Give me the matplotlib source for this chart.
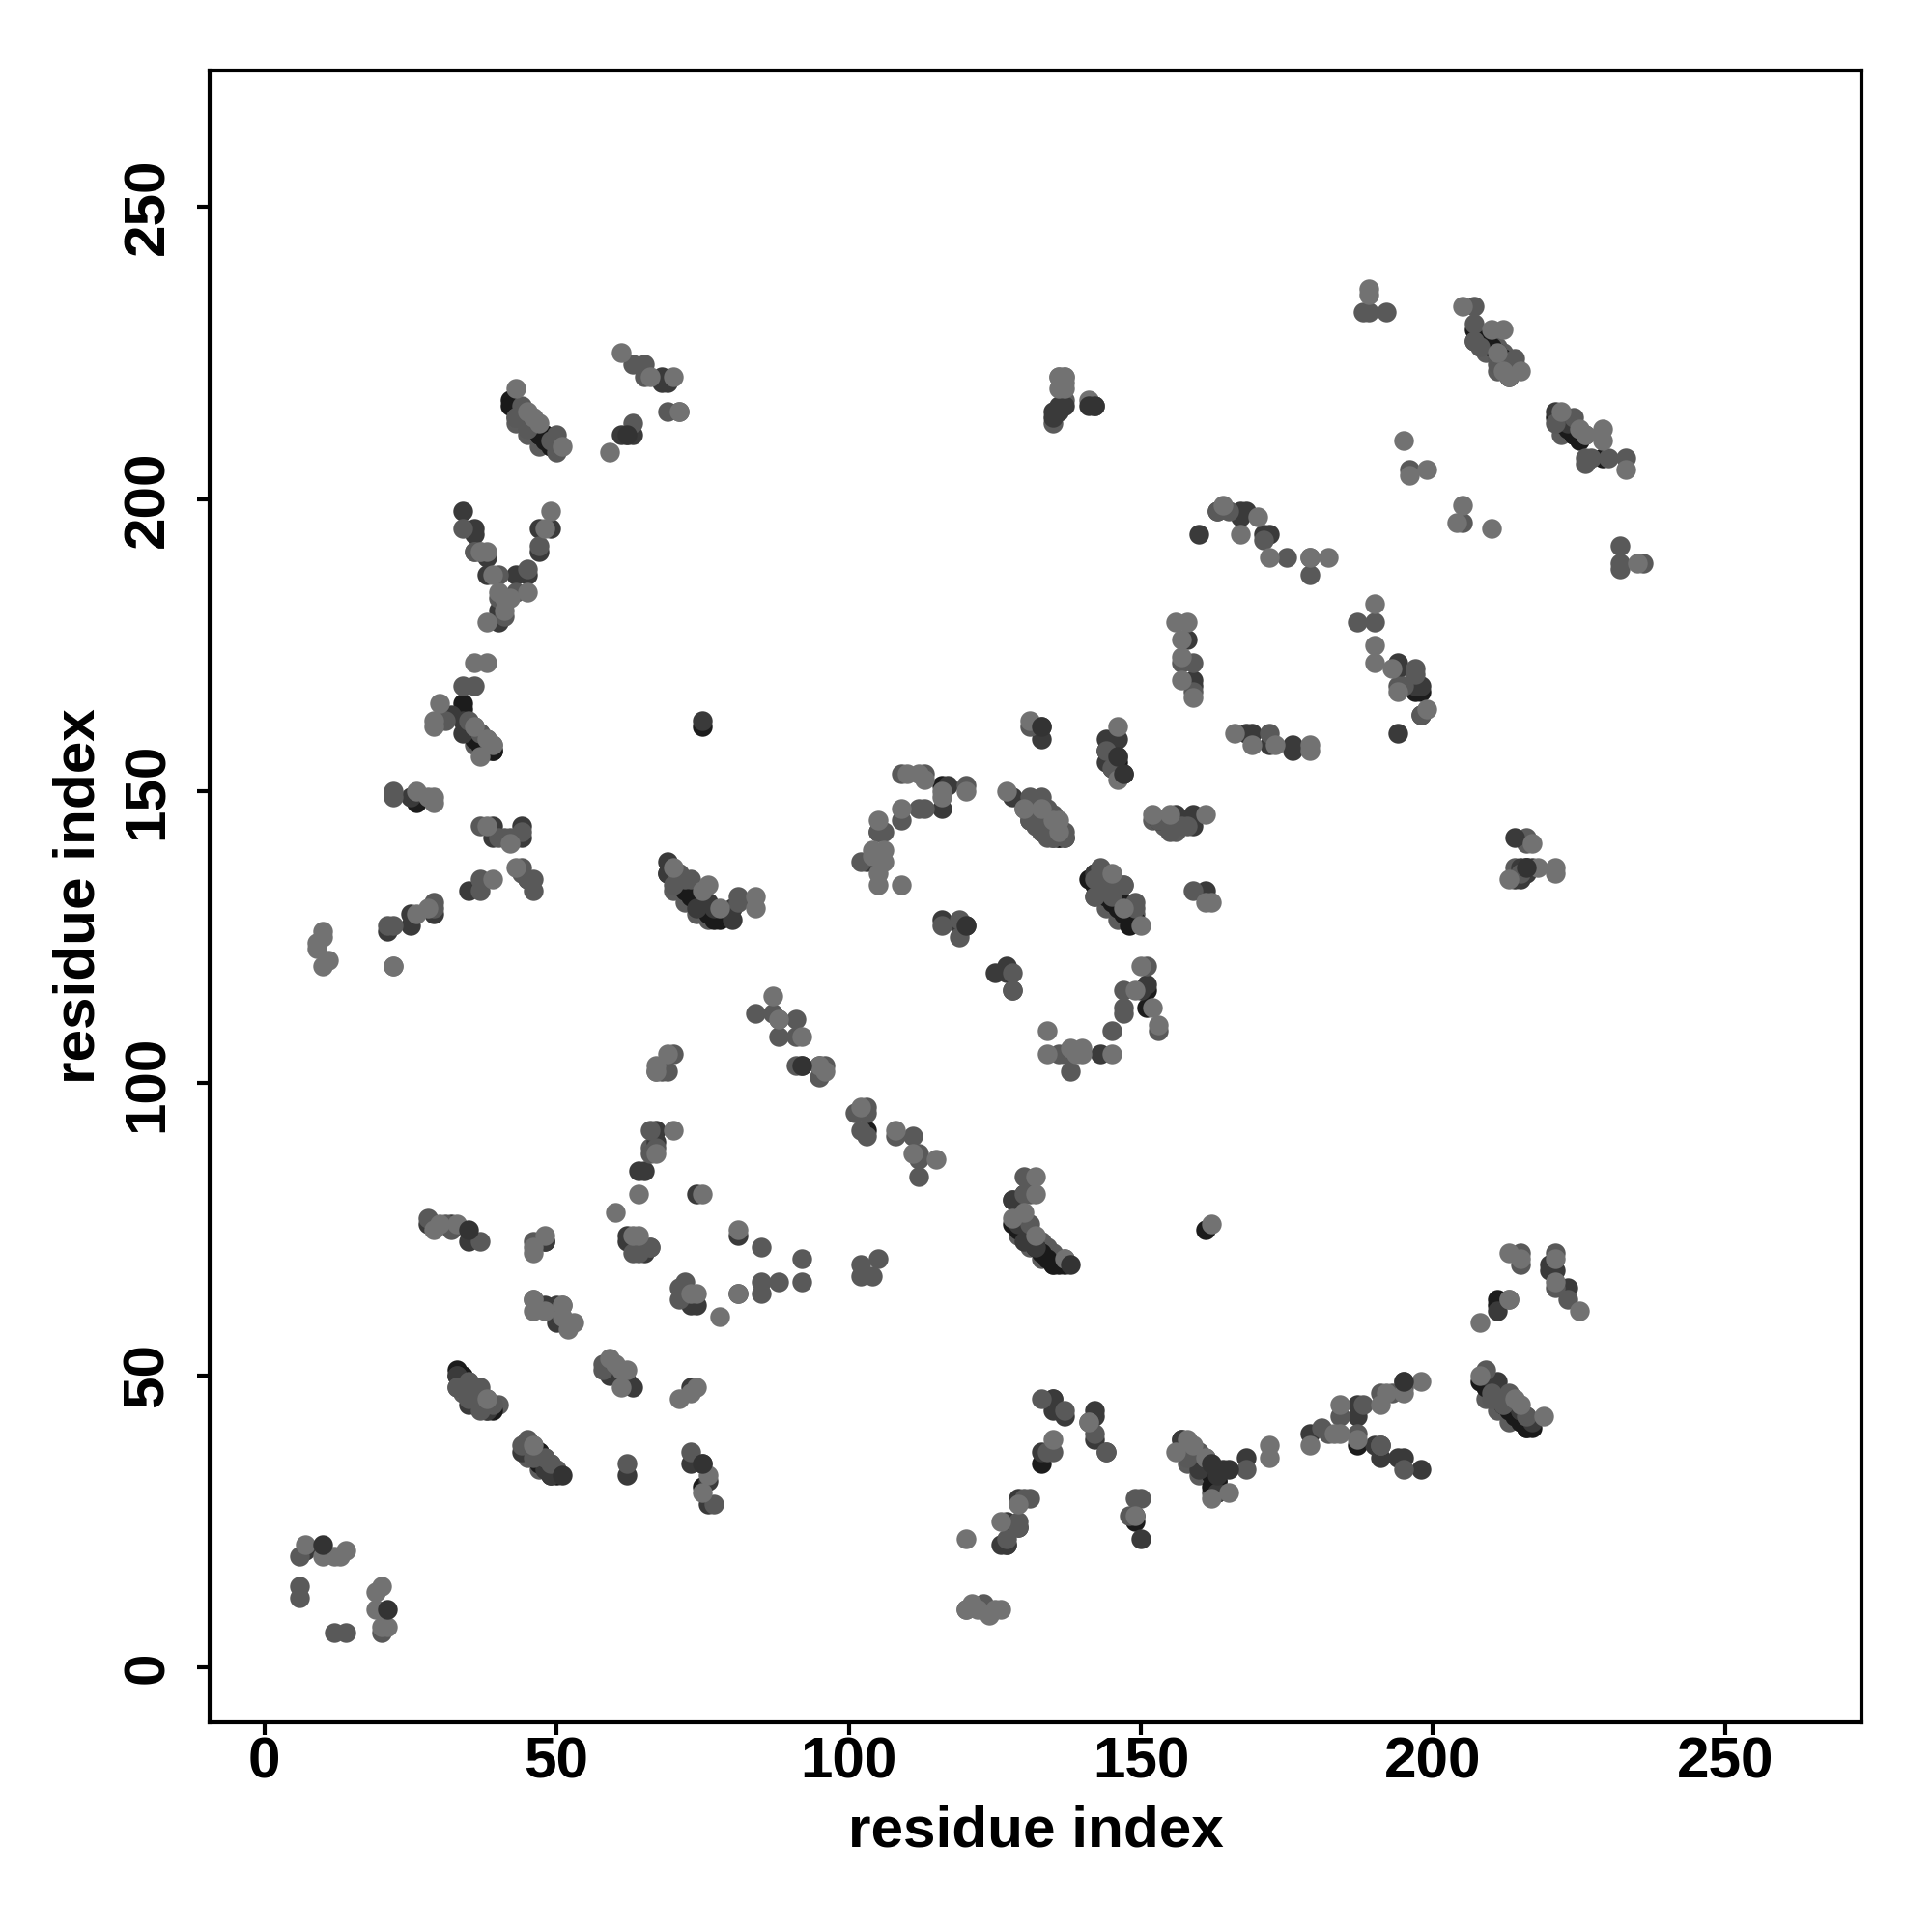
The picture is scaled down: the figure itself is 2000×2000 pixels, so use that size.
import matplotlib
matplotlib.use('Agg')
import matplotlib.pyplot as plt

plt.rcParams['font.family'] = ['Liberation Sans', 'DejaVu Sans']

# contacts, split by gray level (lightest is drawn last)
black_x = [33, 35, 47, 47, 75, 42, 47, 48, 46, 34, 34, 39, 75, 116, 131, 136, 143, 144, 147, 146, 151, 151, 103,
           130, 129, 161, 211, 211, 207, 213, 212, 224, 229, 197, 198, 197, 129, 149, 149, 133, 187, 163, 163, 211, 216, 26, 48]
black_y = [51, 47, 35, 37, 31, 217, 211, 211, 212, 165, 164, 157, 161, 151, 147, 142, 134, 133, 131, 132, 116, 113, 92,
           81, 77, 75, 63, 62, 229, 222, 223, 211, 207, 168, 167, 167, 24, 26, 25, 35, 38, 32, 31, 47, 41, 148, 73]

# dark centre lines of the long diagonal runs
ridge_x = [34, 35, 36, 37, 38, 39, 34, 45, 46, 47, 48, 49, 50, 49, 35, 36, 37, 38, 39, 36, 37, 38,
           42, 43, 44, 45, 46, 47, 48, 49, 50, 50, 69, 70, 71, 72, 73, 74, 75, 76, 77, 78,
           128, 129, 130, 131, 132, 133, 134, 135, 136, 137, 130, 131, 132, 133, 134, 135, 136, 137,
           141, 142, 143, 144, 145, 146, 147, 148, 149, 148, 208, 209, 210, 211, 212, 213, 214, 215, 216, 217,
           158, 159, 160, 161, 162, 163, 162, 163, 208, 209, 210, 211, 212, 213, 214, 213,
           221, 222, 223, 224, 225, 144, 145, 146, 145, 146, 147]
ridge_y = [49, 48, 47, 46, 45, 44, 50, 38, 37, 36, 35, 34, 33, 33, 161, 160, 159, 158, 157, 159, 158, 157,
           216, 215, 214, 213, 212, 211, 210, 209, 209, 210, 136, 135, 134, 133, 132, 131, 130, 129, 128, 128,
           76, 75, 74, 73, 72, 71, 70, 69, 69, 69, 148, 147, 146, 145, 144, 143, 142, 142,
           135, 134, 133, 132, 131, 130, 129, 128, 128, 127, 49, 48, 47, 46, 45, 44, 43, 42, 41, 41,
           37, 36, 35, 34, 33, 32, 31, 30, 228, 227, 226, 225, 224, 223, 222, 221,
           214, 213, 212, 211, 210, 157, 156, 155, 154, 153, 153]

dark_x = [7, 28, 29, 32, 35, 48, 62, 62, 65, 64, 74, 81, 81, 73, 74, 33, 48, 50, 50, 59, 62, 63, 73, 33, 35, 38, 44, 49, 48, 62, 73, 75, 76, 76,
          31, 32, 30, 34, 34, 25, 39, 44, 39, 44, 43, 35, 29, 25, 25, 21, 69, 69, 76, 74, 77, 80, 80, 75,
          61, 62, 63, 68, 69, 68, 36, 36, 38, 47, 49, 47, 38, 43, 45, 40, 40, 45,
          133, 133, 144, 146, 146, 144, 117, 116, 105, 104, 103, 116, 120, 119, 125, 127, 127, 128, 151, 92, 95, 128, 128, 127, 138, 143,
          130, 129, 132, 128, 153, 156, 154, 159, 159, 142, 161, 150, 137, 135, 135,
          209, 220, 221, 220, 223, 211, 207, 214, 215, 221, 223, 137, 142, 160, 163, 167, 168, 167, 171, 172,
          157, 158, 159, 159, 194, 194, 197, 198, 198, 194, 168, 169, 172, 176, 176,
          133, 135, 142, 142, 144, 142, 150, 129, 127, 126, 127, 157, 160, 163, 168, 179, 187, 187, 190, 191, 194, 195, 198,
          215, 215, 216, 217, 211, 212, 212, 215, 217,
          34, 135, 135, 136, 136, 67, 67, 65, 216, 216, 214]
dark_y = [20, 76, 76, 76, 73, 73, 74, 73, 71, 85, 81, 74, 64, 62, 62, 50, 62, 62, 59, 50, 49, 48, 48, 50, 45, 44, 37, 33, 34, 33, 35, 35, 32, 28,
          163, 163, 162, 162, 160, 149, 144, 144, 142, 142, 142, 133, 129, 129, 127, 126, 138, 136, 131, 130, 130, 130, 128, 162,
          211, 211, 211, 221, 220, 220, 195, 194, 190, 195, 195, 191, 187, 187, 187, 181, 179, 135,
          159, 161, 159, 159, 156, 155, 151, 147, 143, 138, 138, 128, 127, 127, 119, 120, 119, 116, 117, 103, 103, 80, 80, 21, 105, 105,
          73, 76, 72, 149, 145, 146, 145, 146, 144, 136, 133, 116, 43, 44, 46,
          50, 69, 68, 68, 65, 61, 227, 142, 135, 215, 213, 216, 216, 194, 198, 198, 198, 197, 194, 194,
          39, 176, 169, 168, 172, 171, 168, 168, 163, 160, 160, 160, 158, 158, 157,
          37, 46, 44, 43, 37, 39, 22, 29, 25, 21, 21, 39, 34, 30, 36, 40, 45, 43, 38, 36, 36, 36, 34,
          44, 137, 137, 137, 49, 45, 46, 44, 42,
          198, 214, 215, 215, 216, 92, 90, 85, 136, 137, 135]

# gray edges either side of the ridges
edge_x = [35, 36, 37, 38, 39, 40, 34, 36, 38, 46, 47, 48, 49, 50, 45, 47, 36, 37, 38, 39, 36,
          43, 44, 45, 46, 47, 48, 43, 45, 47, 70, 71, 72, 73, 74, 75, 76, 77, 70, 72, 74, 76,
          129, 130, 131, 132, 133, 134, 135, 136, 137, 129, 131, 133, 135,
          131, 132, 133, 134, 135, 136, 131, 133, 135,
          142, 143, 144, 145, 146, 147, 148, 149, 142, 144, 146,
          209, 210, 211, 212, 213, 214, 215, 216, 209, 211, 213,
          158, 159, 160, 161, 158, 160, 162,
          209, 210, 211, 212, 213, 214, 209, 211, 222, 223, 224, 222,
          137, 135, 152, 154, 155, 156, 156, 216, 216, 214, 66]
edge_y = [49, 48, 47, 46, 45, 45, 47, 45, 44, 38, 37, 36, 35, 34, 36, 34, 161, 160, 159, 158, 158,
          216, 215, 214, 213, 212, 211, 213, 211, 209, 136, 135, 134, 133, 132, 131, 130, 129, 133, 131, 129, 128,
          76, 75, 74, 73, 73, 72, 71, 70, 70, 74, 72, 70, 69,
          148, 147, 146, 145, 144, 143, 145, 143, 142,
          136, 135, 134, 133, 132, 131, 130, 129, 132, 130, 128,
          50, 49, 48, 47, 46, 45, 44, 43, 46, 44, 42,
          38, 37, 36, 35, 35, 33, 30,
          228, 227, 226, 225, 224, 223, 225, 222, 214, 213, 212, 211,
          217, 213, 145, 144, 144, 145, 143, 142, 141, 137, 89]

mid_x = [6, 6, 6, 12, 14, 20, 28, 31, 32, 46, 66, 63, 64, 66, 72, 37, 72, 71, 71, 72, 85, 85, 85, 33, 46, 51, 58, 58, 33, 35, 35, 37, 37, 39, 37, 45, 44, 46, 48, 49, 62, 73, 77,
       34, 36, 31, 35, 37, 22, 22, 37, 40, 41, 42, 44, 44, 45, 44, 46, 46, 37, 37, 29, 29, 21, 22, 70, 71, 73, 72, 81, 81, 70, 67, 68, 69, 66, 67, 66, 84,
       43, 44, 45, 43, 50, 49, 50, 63, 65, 65, 63, 69, 71, 34, 36, 36, 37, 45, 47, 40, 43, 40, 41,
       131, 144, 145, 109, 113, 120, 112, 113, 109, 105, 106, 102, 119, 116, 119, 128, 128, 151, 147, 153, 147, 147, 145, 136, 137, 138, 87, 88, 91, 88, 91, 91, 96, 95,
       101, 103, 103, 102, 103, 108, 111, 112, 112, 112, 130, 130, 131, 131, 102, 102, 105, 104, 88, 92, 92,
       131, 133, 134, 135, 134, 130, 131, 134, 131, 132, 133, 134, 135, 137, 142, 143, 153, 155, 157, 158, 159,
       145, 147, 149, 149, 143, 142, 144, 146, 147,
       215, 215, 221, 221, 223, 209, 210, 210, 213, 216, 188, 189, 192, 207, 207, 207, 208, 211, 211, 214, 221, 224, 226, 226, 227, 230, 233, 226, 196, 205, 232, 232, 232, 236, 163, 165, 171, 175, 179, 179,
       157, 159, 159, 187, 190, 197, 197, 194, 195, 198, 172, 135, 137, 141, 215,
       133, 137, 134, 135, 144, 142, 149, 150, 148, 129, 130, 131, 129, 127, 158, 160, 161, 168, 181, 182, 184, 188, 187, 191, 191, 193, 195, 195, 191, 191, 195, 213, 212, 120, 123, 123]
mid_y = [14, 12, 19, 6, 6, 6, 77, 76, 75, 73, 72, 71, 71, 72, 66, 73, 64, 65, 63, 64, 72, 66, 64, 48, 63, 62, 52, 51, 48, 49, 46, 47, 48, 45, 44, 39, 38, 36, 36, 35, 35, 37, 28,
       168, 168, 162, 162, 160, 150, 149, 144, 142, 142, 142, 143, 137, 135, 136, 135, 133, 135, 133, 131, 130, 127, 127, 134, 136, 135, 135, 132, 131, 105, 102, 102, 102, 92, 89, 88, 112,
       214, 216, 212, 214, 211, 210, 208, 223, 223, 221, 213, 215, 215, 195, 191, 191, 191, 188, 192, 183, 184, 187, 180,
       161, 157, 154, 153, 153, 151, 147, 147, 145, 143, 143, 138, 125, 127, 128, 119, 116, 120, 116, 109, 113, 112, 109, 105, 105, 102, 112, 111, 111, 108, 108, 103, 103, 101,
       95, 96, 95, 92, 91, 91, 91, 88, 87, 84, 84, 81, 81, 76, 69, 67, 70, 67, 66, 70, 66,
       149, 149, 147, 146, 145, 147, 145, 146, 145, 144, 143, 142, 142, 143, 135, 137, 145, 143, 144, 144, 133,
       132, 134, 131, 130, 134, 132, 136, 134, 134,
       71, 69, 71, 65, 63, 51, 47, 46, 47, 43, 232, 232, 232, 233, 230, 227, 226, 224, 223, 224, 213, 214, 207, 206, 207, 207, 207, 211, 205, 196, 192, 189, 188, 189, 198, 198, 193, 190, 190, 187,
       172, 172, 167, 179, 179, 171, 170, 168, 168, 163, 160, 142, 142, 42, 136,
       46, 44, 37, 37, 37, 40, 29, 29, 26, 25, 29, 29, 24, 22, 36, 37, 36, 34, 41, 40, 43, 45, 40, 47, 38, 47, 49, 48, 38, 38, 34, 63, 45, 10, 11, 10]

light_x = [7, 10, 12, 13, 14, 20, 19, 19, 21, 20, 29, 30, 33, 48, 46, 46, 64, 63, 60, 64, 75, 81, 73, 74, 81, 78, 46, 51, 46, 48, 51, 53, 52, 59, 60, 61, 62, 61, 71, 74, 73, 38, 46, 76, 75, 10,
         30, 29, 29, 36, 38, 39, 37, 26, 28, 29, 29, 38, 42, 43, 39, 26, 22, 28, 10, 9, 9, 10, 11, 22, 70, 75, 78, 84, 84, 76, 69, 67, 67, 70, 67,
         43, 45, 46, 47, 51, 61, 66, 70, 71, 59, 49, 48, 37, 38, 39, 40, 41, 42, 45, 41, 38, 36, 38,
         131, 146, 146, 110, 112, 113, 120, 116, 116, 109, 105, 104, 106, 106, 105, 105, 104, 109, 150, 149, 152, 153, 134, 134, 138, 140, 139, 140, 145, 87, 88, 92, 95, 96, 102, 108, 111, 115, 132,
         127, 130, 133, 135, 136, 136, 152, 155, 161, 145, 147, 150, 161, 162, 132, 128, 130, 132, 137, 162, 213, 215, 221, 221, 225, 213, 208, 208, 214, 215, 219, 189, 189, 205, 210, 212, 211, 212, 213, 215,
         222, 225, 226, 229, 229, 233, 195, 196, 199, 205, 204, 210, 235, 164, 170, 167, 172, 179, 182, 157, 158, 157, 157, 159, 190, 190, 190, 193, 194, 199, 166, 169, 173, 179, 179,
         137, 137, 141, 142, 135, 141, 149, 129, 126, 120, 120, 121, 122, 124, 125, 126, 158, 156, 159, 161, 162, 165, 172, 172, 179, 184, 183, 184, 187, 191, 192, 195, 198, 217, 213, 218, 221, 221, 137, 137, 136,
         156, 136, 136]
light_y = [21, 19, 19, 19, 20, 14, 13, 10, 7, 7, 75, 76, 76, 74, 71, 72, 74, 74, 78, 81, 81, 75, 64, 64, 64, 60, 63, 62, 61, 61, 60, 59, 58, 53, 52, 51, 51, 48, 46, 48, 47, 46, 38, 33, 30, 126,
         165, 162, 161, 161, 159, 158, 156, 150, 149, 149, 148, 144, 141, 137, 135, 129, 120, 130, 125, 124, 123, 120, 121, 120, 137, 133, 130, 132, 130, 134, 105, 103, 102, 92, 88,
         219, 215, 214, 213, 209, 225, 221, 221, 215, 208, 198, 195, 191, 191, 187, 184, 183, 183, 184, 181, 179, 172, 172,
         162, 161, 152, 153, 153, 152, 150, 150, 149, 147, 145, 140, 140, 138, 136, 134, 139, 134, 120, 116, 113, 110, 109, 105, 106, 106, 105, 105, 105, 115, 111, 108, 103, 102, 96, 92, 88, 87, 84,
         150, 147, 147, 145, 145, 143, 146, 146, 146, 136, 130, 127, 131, 131, 81, 77, 78, 74, 70, 76, 71, 70, 70, 66, 61, 63, 59, 50, 46, 45, 43, 236, 235, 233, 229, 229, 225, 222, 221, 222,
         215, 212, 211, 212, 210, 205, 210, 204, 205, 199, 196, 195, 189, 199, 197, 194, 190, 190, 190, 176, 179, 173, 169, 166, 182, 175, 172, 171, 167, 164, 160, 158, 158, 158, 157,
         221, 219, 217, 216, 39, 42, 26, 28, 25, 22, 10, 11, 10, 9, 10, 10, 39, 37, 38, 36, 29, 30, 38, 36, 38, 45, 40, 40, 39, 45, 47, 47, 49, 141, 135, 137, 137, 136, 221, 220, 221,
         179, 221, 219]

# the few dark points that sit on top of their neighbours
front_x = [10, 21, 35, 51, 75, 120, 133, 146, 147, 92, 162, 165, 141, 142, 195, 138, 216, 62, 164, 163]
front_y = [21, 10, 75, 33, 35, 127, 161, 156, 153, 103, 35, 34, 216, 216, 49, 69, 137, 211, 34, 33]

tick_vals = [0, 50, 100, 150, 200, 250]

fig = plt.figure(figsize=(10, 10), dpi=200)
ax = fig.add_axes([0.1084, 0.1084, 0.8553, 0.8553])

# gray level of each group
ax.scatter(edge_x, edge_y, s=54, c='#5c5c5c', linewidths=0, zorder=2)
ax.scatter(black_x, black_y, s=54, c='#1c1c1c', linewidths=0, zorder=3)
ax.scatter(ridge_x, ridge_y, s=54, c='#1a1a1a', linewidths=0, zorder=3)
ax.scatter(dark_x, dark_y, s=54, c='#3a3a3a', linewidths=0, zorder=4)
ax.scatter(mid_x, mid_y, s=54, c='#595959', linewidths=0, zorder=5)
ax.scatter(light_x, light_y, s=54, c='#727272', linewidths=0, zorder=6)
ax.scatter(front_x, front_y, s=54, c='#333333', linewidths=0, zorder=7)

ax.set_xlim(-9.4, 273.4)
ax.set_ylim(-9.4, 273.4)
ax.set_xticks(tick_vals)
ax.set_yticks(tick_vals)
ax.tick_params(length=4.6, width=1.5, labelsize=21.7)
ax.tick_params(axis='x', pad=0.7)
ax.tick_params(axis='y', pad=8.3)
for label in ax.get_xticklabels() + ax.get_yticklabels():
    label.set_fontweight('bold')
for label in ax.get_yticklabels():
    label.set_rotation(90)
    label.set_va('center')
for spine in ax.spines.values():
    spine.set_linewidth(1.5)

ax.set_xlabel('residue index', fontsize=21.7, fontweight='bold', labelpad=5.6)
ax.set_ylabel('residue index', fontsize=21.7, fontweight='bold', labelpad=5.8)

fig.savefig('out.png', dpi=200)
